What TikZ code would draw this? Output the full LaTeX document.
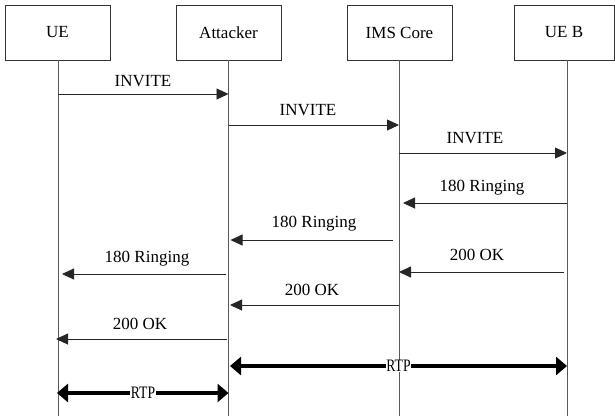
\documentclass[tikz,border=0pt]{standalone}
\usepackage{fontspec}
\setmainfont{Liberation Serif}
\usetikzlibrary{arrows.meta,calc}
\begin{document}
\begin{tikzpicture}[x=1pt,y=-1pt,
  actor/.style={draw=black!80,line width=0.9pt,minimum width=105pt,minimum height=55pt,inner sep=0pt,font=\fontsize{17}{20}\selectfont},
  life/.style={draw=black!65,line width=0.9pt},
  msg/.style={draw=black!85,line width=0.9pt,-{Triangle[length=12pt,width=11pt]}},
  lbl/.style={font=\fontsize{17}{20}\selectfont,inner sep=0pt,anchor=base},
  rtp/.style={line width=4.5pt,{Triangle[length=11pt,width=18pt]}-{Triangle[length=11pt,width=18pt]}},
  rtplbl/.style={font=\fontsize{17.5}{20}\selectfont,fill=white,inner xsep=0.8pt,inner ysep=0.5pt}
]
\useasboundingbox (0,0) rectangle (615,416);
% actors
\node[actor] (ue) at (57.5,32.5) {UE};
\node[actor] (att) at (228.5,32.5) {Attacker};
\node[actor] (ims) at (399.5,32.5) {IMS Core};
\node[actor,minimum width=100pt] (ueb) at (564,32.5) {UE B};
% lifelines
\coordinate (ueL) at (58,60);
\coordinate (attL) at (228.5,60);
\coordinate (imsL) at (399,60);
\coordinate (uebL) at (567,60);
\draw[life] (ueL) -- (ueL |- 0,416);
\draw[life] (attL) -- (attL |- 0,416);
\draw[life] (imsL) -- (imsL |- 0,416);
\draw[life] (uebL) -- (uebL |- 0,416);
% messages
\draw[msg] (ueL |- 0,94) -- (attL |- 0,94);
\node[lbl] (l1) at (143,86) {INVITE};
\draw[msg] (attL |- 0,125) -- (imsL |- 0,125);
\node[lbl] (l2) at (308,115) {INVITE};
\draw[msg] (imsL |- 0,153) -- (uebL |- 0,153);
\node[lbl] (l3) at (475,143) {INVITE};
\draw[msg] (uebL |- 0,203) -- ($(imsL |- 0,203)+(4,0)$);
\node[lbl] (l4) at (482,191) {180 Ringing};
\draw[msg] ($(imsL |- 0,240)+(-6,0)$) -- ($(attL |- 0,240)+(2,0)$);
\node[lbl] (l5) at (314,227) {180 Ringing};
\draw[msg] ($(attL |- 0,274)+(-2.5,0)$) -- ($(ueL |- 0,274)+(4,0)$);
\node[lbl] (l6) at (147,262) {180 Ringing};
\draw[msg] ($(uebL |- 0,272)+(-3,0)$) -- (imsL |- 0,272);
\node[lbl] (l7) at (477,260) {200 OK};
\draw[msg] (imsL |- 0,305) -- ($(attL |- 0,305)+(1.5,0)$);
\node[lbl] (l8) at (312,295) {200 OK};
\draw[msg] ($(attL |- 0,339)+(-1.5,0)$) -- ($(ueL |- 0,339)+(-2,0)$);
\node[lbl] (l9) at (140,329) {200 OK};
% RTP
\draw[rtp] ($(attL |- 0,366)+(1.5,0)$) -- (uebL |- 0,366);
\node[rtplbl] (r1) at (398.5,366) {\scalebox{0.78}[1]{RTP}};
\draw[rtp] ($(ueL |- 0,393)+(-1,0)$) -- (attL |- 0,393);
\node[rtplbl] (r2) at (143,393) {\scalebox{0.78}[1]{RTP}};
\end{tikzpicture}
\end{document}
